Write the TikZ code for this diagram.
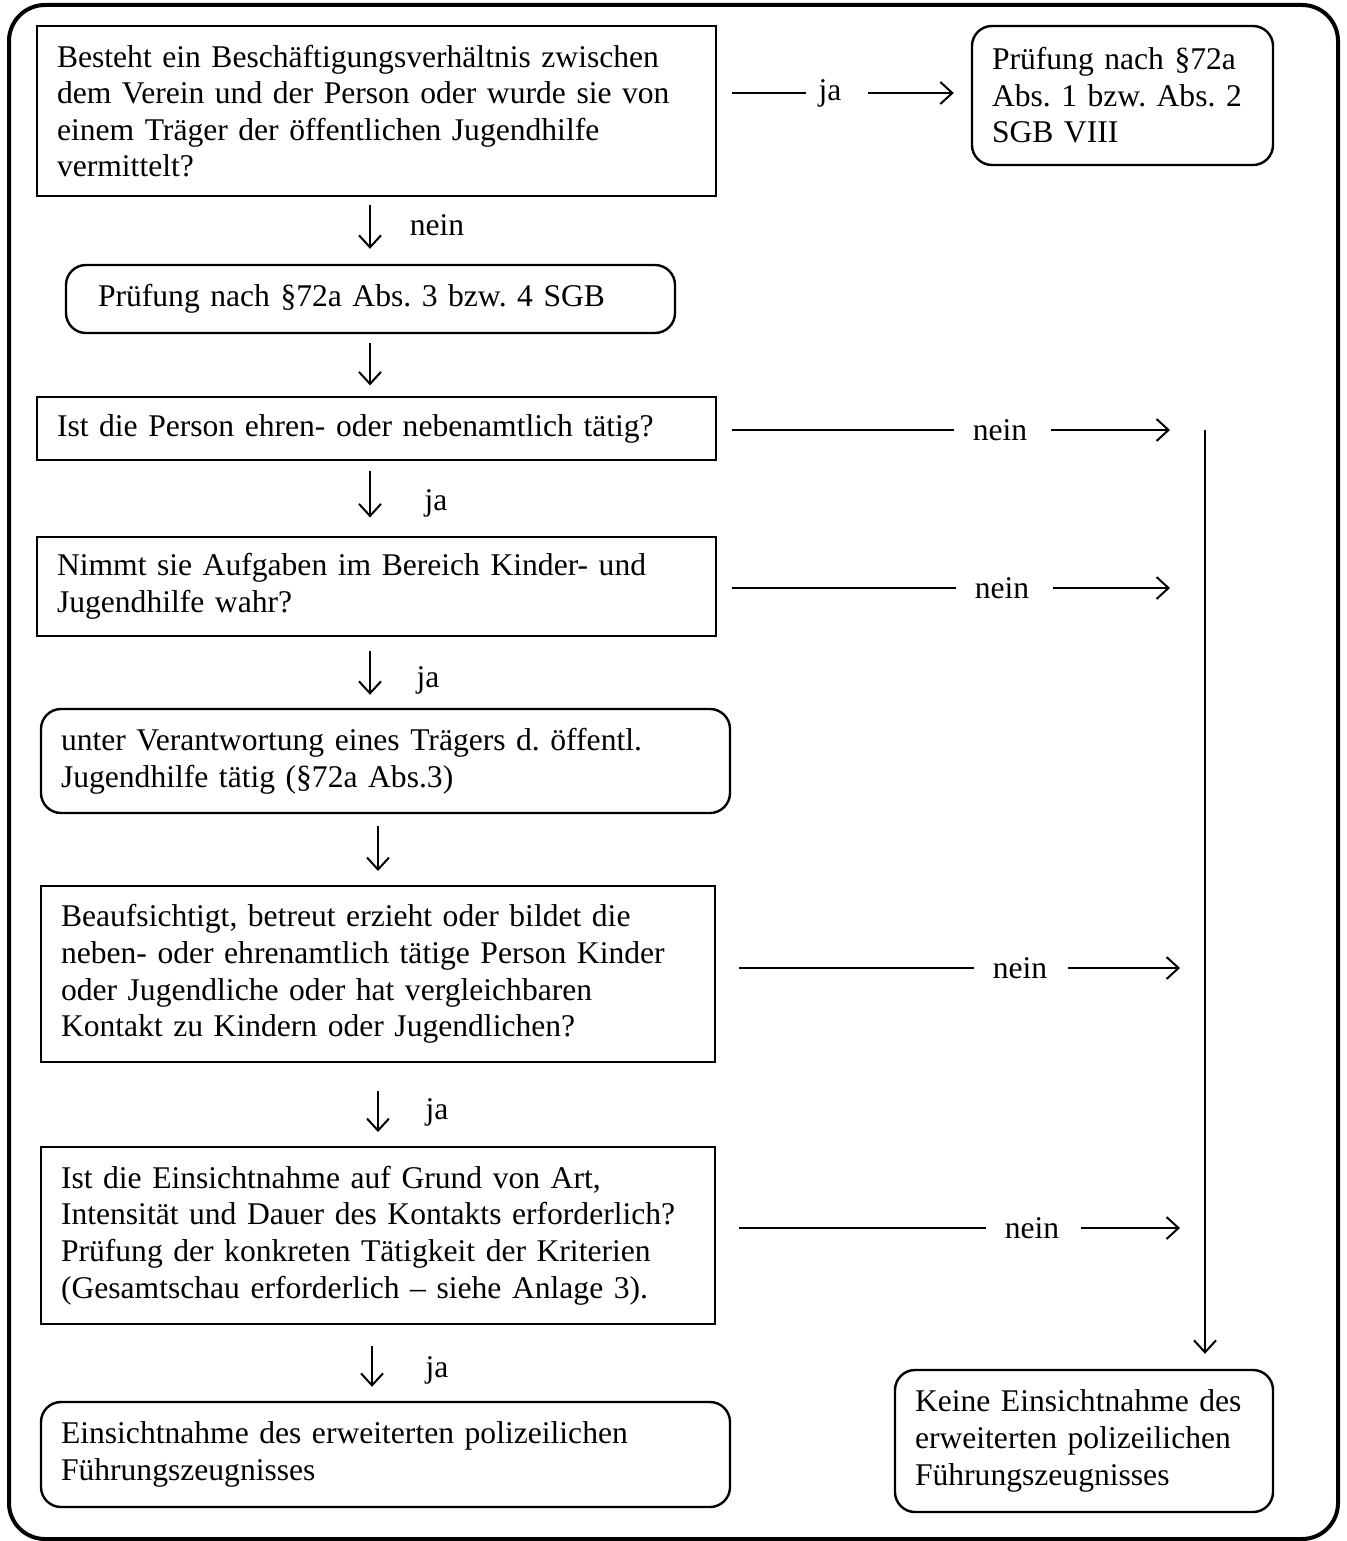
\documentclass[tikz,border=0pt]{standalone}
\usepackage{fontspec}
\setmainfont{Liberation Serif}
\usetikzlibrary{arrows.meta}
\frenchspacing

\begin{document}
\begin{tikzpicture}[x=0.5pt,y=-0.5pt,font=\fontsize{15.8}{18.3}\selectfont,
  >={Straight Barb[length=6pt,width=11pt]},
  frage/.style={draw,line width=0.6pt,inner xsep=6pt,align=left,execute at begin node=\leftskip4pt},
  frage2/.style={frage,line width=1pt},
  ergebnis/.style={frage,rounded corners=10pt,line width=1.2pt},
  pfeil/.style={->,line width=1pt},
  linie/.style={line width=1pt,shorten >=6pt}]
\useasboundingbox (0,0) rectangle (1346,1541);
\draw [line width=2pt,rounded corners=18pt] (9,5) rectangle (1338,1539);
\node [frage,text width=327.5pt,minimum height=85pt] (frage1) at (376.5,111) {Besteht ein Beschäftigungsverhältnis zwischen\\dem Verein und der Person oder wurde sie von\\einem Träger der öffentlichen Jugendhilfe\\vermittelt?};
\node [ergebnis,text width=138.5pt,minimum height=69.5pt] (pruef12) at (1122.5,95.5) {Prüfung nach §72a\\Abs. 1 bzw. Abs. 2\\SGB VIII};
\node [ergebnis,text width=292.5pt,minimum height=34pt,execute at begin node=\leftskip10pt] (pruef34) at (370.5,299) {Prüfung nach §72a Abs. 3 bzw. 4 SGB};
\node [frage,text width=327.5pt,minimum height=31.5pt] (frage2) at (376.5,428.5) {Ist die Person ehren- oder nebenamtlich tätig?};
\node [frage,text width=327.5pt,minimum height=49.5pt] (frage3) at (376.5,586.5) {Nimmt sie Aufgaben im Bereich Kinder- und\\Jugendhilfe wahr?};
\node [ergebnis,text width=332.5pt,minimum height=52pt] (traeger) at (385.5,761) {unter Verantwortung eines Trägers d. öffentl.\\Jugendhilfe tätig (§72a Abs.3)};
\node [frage2,text width=325pt,minimum height=88pt] (frage4) at (378,974) {Beaufsichtigt, betreut erzieht oder bildet die\\neben- oder ehrenamtlich tätige Person Kinder\\oder Jugendliche oder hat vergleichbaren\\Kontakt zu Kindern oder Jugendlichen?};
\node [frage2,text width=325pt,minimum height=88.5pt] (frage5) at (378,1235.5) {Ist die Einsichtnahme auf Grund von Art,\\Intensität und Dauer des Kontakts erforderlich?\\Prüfung der konkreten Tätigkeit der Kriterien\\(Gesamtschau erforderlich – siehe Anlage 3).};
\node [ergebnis,text width=332.5pt,minimum height=52.5pt] (einsicht) at (385.5,1454.5) {Einsichtnahme des erweiterten polizeilichen\\Führungszeugnisses};
\node [ergebnis,text width=177pt,minimum height=71pt] (keine) at (1084,1441) {Keine Einsichtnahme des\\erweiterten polizeilichen\\Führungszeugnisses};
% ja / nein Beschriftungen
\node (ja0) at (830,93) {ja};
\node (nein0) at (437,225) {nein};
\node (ja1) at (436,503) {ja};
\node (ja2) at (428,680) {ja};
\node (ja3) at (437,1112) {ja};
\node (ja4) at (437,1370) {ja};
\node (nein1) at (1000,430) {nein};
\node (nein2) at (1002,588) {nein};
\node (nein3) at (1020,968) {nein};
\node (nein4) at (1032,1228) {nein};
\coordinate (achse) at (370,0);
\coordinate (achse2) at (378,0);
\coordinate (achse3) at (372,0);
\coordinate (sammel) at (1205,430);
% Pfeile nach unten
\draw [pfeil,shorten <=4pt,shorten >=7.5pt] (frage1.south -| achse) -- (pruef34.north -| achse);
\draw [pfeil,shorten <=4.5pt,shorten >=5.5pt] (pruef34.south -| achse) -- (frage2.north -| achse);
\draw [pfeil,shorten <=5pt,shorten >=9.5pt] (frage2.south -| achse) -- (frage3.north -| achse);
\draw [pfeil,shorten <=7pt,shorten >=6.5pt] (frage3.south -| achse) -- (traeger.north -| achse);
\draw [pfeil,shorten <=6pt,shorten >=7pt] (traeger.south -| achse2) -- (frage4.north -| achse2);
\draw [pfeil,shorten <=14pt,shorten >=7pt] (frage4.south -| achse2) -- (frage5.north -| achse2);
\draw [pfeil,shorten <=10.5pt,shorten >=7pt] (frage5.south -| achse3) -- (einsicht.north -| achse3);
% Pfeile nach rechts
\draw [linie,shorten <=7.5pt,shorten >=3pt] (frage1.east |- ja0) -- (ja0.west);
\draw [pfeil,shorten <=10pt,shorten >=8.5pt] (ja0.east) -- (pruef12.west |- ja0);
\draw [linie,shorten <=7.5pt] (frage2.east |- nein1) -- (nein1.west);
\draw [pfeil,shorten <=8.5pt,shorten >=17.5pt] (nein1.east) -- (sammel |- nein1);
\draw [linie,shorten <=7.5pt] (frage3.east |- nein2) -- (nein2.west);
\draw [pfeil,shorten <=8.5pt,shorten >=17.5pt] (nein2.east) -- (sammel |- nein2);
\draw [linie,shorten <=11.5pt] (frage4.east |- nein3) -- (nein3.west);
\draw [pfeil,shorten <=7pt,shorten >=12.5pt] (nein3.east) -- (sammel |- nein3);
\draw [linie,shorten <=11.5pt] (frage5.east |- nein4) -- (nein4.west);
\draw [pfeil,shorten <=7.5pt,shorten >=12.5pt] (nein4.east) -- (sammel |- nein4);
\draw [pfeil,shorten >=7.5pt] (sammel) -- (sammel |- keine.north);
\end{tikzpicture}
\end{document}
